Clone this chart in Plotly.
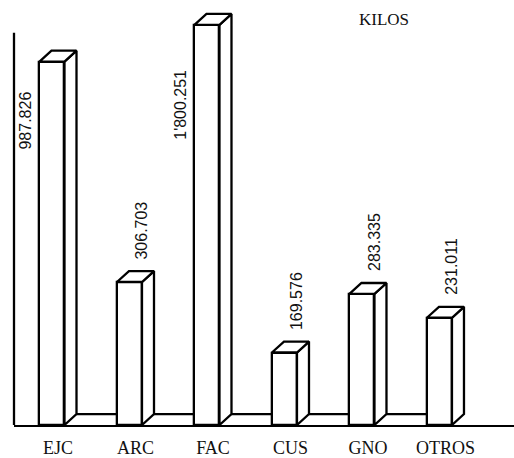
import plotly.graph_objects as go

# ---- data ----
categories = ["EJC", "ARC", "FAC", "CUS", "GNO", "OTROS"]
kilos = [987826, 306703, 1800251, 169576, 283335, 231011]
# bar heights as they are drawn (the original chart is not to scale)
drawn_heights = [366, 144, 403, 73, 132, 108]
unit_label = "KILOS"

# ---- styles ----
BAR_W = 0.323      # front face width (x units)
DX = 0.155         # depth offset, x units
DY = 11            # depth offset, y units
LINE = dict(color="black", width=2.3)
label_inside = [True, False, True, False, False, False]   # label beside tall bars
label_drop = [-28, 0, -43, 0, 0, 0]                        # px below top for side labels


def fmt(v):
    s = f"{v:,}"
    parts = s.split(",")
    if len(parts) == 3:
        return parts[0] + "'" + parts[1] + "." + parts[2]
    return ".".join(parts)


xs = list(range(len(categories)))
fig = go.Figure()

# front faces
fig.add_trace(go.Bar(x=xs, y=drawn_heights, width=BAR_W,
                     marker=dict(color="white", line=LINE),
                     hoverinfo="skip", showlegend=False))

# side & top faces
for i, h in zip(xs, drawn_heights):
    l, r = i - BAR_W / 2, i + BAR_W / 2
    fig.add_trace(go.Scatter(
        x=[r, r + DX, r + DX, r, r], y=[0, DY, h + DY, h, 0],
        mode="lines", fill="toself", fillcolor="white", line=LINE,
        hoverinfo="skip", showlegend=False))
    fig.add_trace(go.Scatter(
        x=[l, l + DX, r + DX, r, l], y=[h, h + DY, h + DY, h, h],
        mode="lines", fill="toself", fillcolor="white", line=LINE,
        hoverinfo="skip", showlegend=False))

# back floor line between bars
fx, fy = [], []
for i in xs[:-1]:
    fx += [i + BAR_W / 2 + DX, i + 1 - BAR_W / 2, None]
    fy += [DY, DY, None]
fig.add_trace(go.Scatter(x=fx, y=fy, mode="lines", line=LINE,
                         hoverinfo="skip", showlegend=False))

# value labels
for i, (v, h) in enumerate(zip(kilos, drawn_heights)):
    if label_inside[i]:
        fig.add_annotation(x=i - BAR_W / 2, y=h, text=fmt(v), textangle=-90,
                           xanchor="right", yanchor="top", xshift=-3,
                           yshift=label_drop[i], showarrow=False,
                           font=dict(family="Liberation Sans", size=16, color="#111"))
    else:
        fig.add_annotation(x=i + DX, y=h + DY, text=fmt(v), textangle=-90,
                           xanchor="center", yanchor="bottom", yshift=10,
                           showarrow=False,
                           font=dict(family="Liberation Sans", size=16, color="#111"))

fig.add_annotation(xref="paper", yref="paper", x=0.74, y=0.955, text=unit_label,
                   showarrow=False, xanchor="center", yanchor="middle",
                   font=dict(family="Liberation Serif", size=17, color="#111"))

# vertical axis line
fig.add_shape(type="line", xref="paper", x0=0, x1=0, yref="y", y0=0, y1=395,
              line=LINE)

fig.update_layout(
    width=514, height=458,
    margin=dict(l=14, r=0, t=0, b=30),
    paper_bgcolor="white", plot_bgcolor="white",
    bargap=0,
    xaxis=dict(range=[-0.490, 5.962], showline=True, linecolor="black", linewidth=2.3,
               tickvals=[i + DX / 2 for i in xs], ticktext=categories,
               showgrid=False, zeroline=False, ticks="", ticklabelstandoff=5,
               tickfont=dict(family="Liberation Serif", size=18, color="#111")),
    yaxis=dict(range=[0, 428], visible=False, showgrid=False, zeroline=False),
)

fig.write_html("out.html", config={"displayModeBar": False},
               post_script="document.body.style.margin='0';document.body.style.overflow='hidden';")
